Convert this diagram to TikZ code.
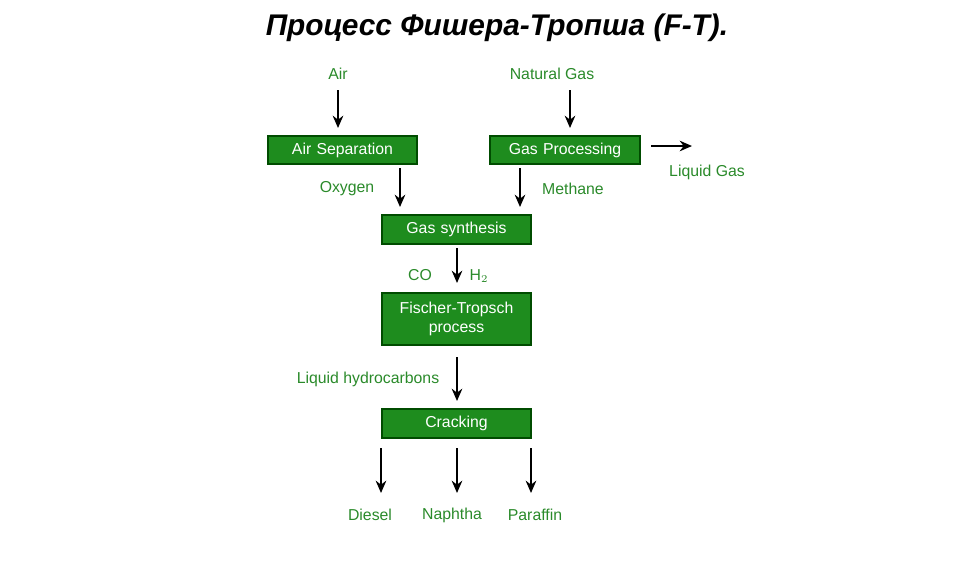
\documentclass[tikz,border=0pt]{standalone}
\usepackage{fontspec}
\setmainfont{Liberation Sans}
\usetikzlibrary{arrows.meta}
\definecolor{boxgreen}{HTML}{1E8C1E}
\definecolor{txtgreen}{HTML}{2A8A2A}
\begin{document}
\begin{tikzpicture}[x=0.02cm,y=-0.02cm,thick]
        %
        % `stage' is used for the green process boxes.
        % `lbl' is used for the stream names.
        \tikzset{stage/.style={draw=green!30!black,fill=boxgreen,text=white,font=\fontsize{9}{11}\selectfont,inner sep=0pt,align=center}}
        \tikzset{lbl/.style={text=txtgreen,font=\fontsize{9}{11}\selectfont,inner sep=1pt}}
        \tikzset{flow/.style={-{Stealth[length=7pt,width=6pt]},line width=1.3pt}}
        \useasboundingbox (0,0) rectangle (960,568);
        %
        % Title
        \node[font=\fontsize{17}{19}\selectfont\bfseries\itshape] (title) at (497,28) {Процесс Фишера-Тропша (F-T).};
        %
        % Boxes
        \node[stage,text width=2.98cm,minimum height=0.56cm] (airsep) at (342.5,150) {Air Separation};
        \node[stage,text width=3cm,minimum height=0.56cm] (gasproc) at (565,150) {Gas Processing};
        \node[stage,text width=2.98cm,minimum height=0.58cm] (gassyn) at (456.5,229.5) {Gas synthesis};
        \node[stage,text width=2.98cm,minimum height=1.04cm] (ftp) at (456.5,319) {Fischer-Tropsch\\process};
        \node[stage,text width=2.98cm,minimum height=0.58cm] (crack) at (456.5,423.5) {Cracking};
        %
        % Labels
        \node[lbl] (air) at (338,74) {Air};
        \node[lbl] (natgas) at (552,74) {Natural Gas};
        \node[lbl] (liqgas) at (707,172) {Liquid Gas};
        \node[lbl] (oxy) at (347,189) {Oxygen};
        \node[lbl] (meth) at (573,189) {Methane};
        \node[lbl] (co) at (420,275) {CO};
        \node[lbl] (htwo) at (479,276) {H$_2$};
        \node[lbl] (liqhc) at (368,379) {Liquid hydrocarbons};
        \node[lbl] (diesel) at (370,515) {Diesel};
        \node[lbl] (naphtha) at (452,515) {Naphtha};
        \node[lbl] (paraffin) at (535,515) {Paraffin};
        %
        % Arrow ends
        \coordinate (a1) at (338,90); \coordinate (a2) at (338,128);
        \coordinate (n1) at (570,90); \coordinate (n2) at (570,128);
        \coordinate (l1) at (651,146); \coordinate (l2) at (692,146);
        \coordinate (o1) at (400,168); \coordinate (o2) at (400,207);
        \coordinate (m1) at (520,168); \coordinate (m2) at (520,207);
        \coordinate (c1) at (457,248); \coordinate (c2) at (457,283);
        \coordinate (h1) at (457,357); \coordinate (h2) at (457,401);
        \draw[flow] (a1) -- (a2);
        \draw[flow] (n1) -- (n2);
        \draw[flow] (l1) -- (l2);
        \draw[flow] (o1) -- (o2);
        \draw[flow] (m1) -- (m2);
        \draw[flow] (c1) -- (c2);
        \draw[flow] (h1) -- (h2);
        \foreach \xx in {381,457,531}
          \draw[flow] (\xx,448) -- (\xx,493);
        %
\end{tikzpicture}
\end{document}
